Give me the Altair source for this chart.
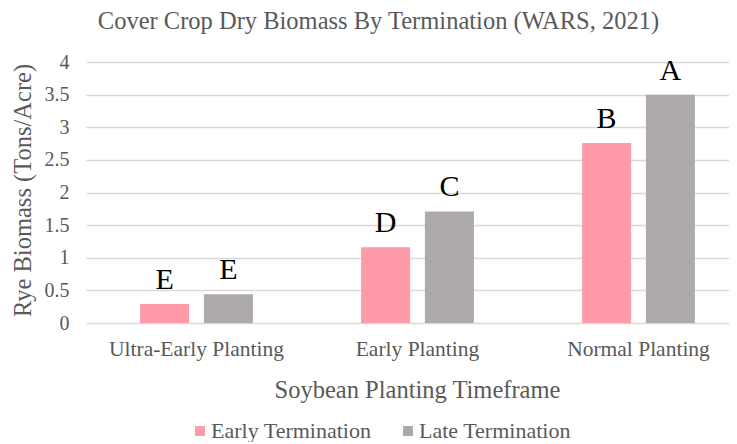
import altair as alt
import pandas as pd

groups = ["Ultra-Early Planting", "Early Planting", "Normal Planting"]
series = ["Early Termination", "Late Termination"]
early_values = [0.29, 1.16, 2.76]
late_values = [0.44, 1.71, 3.50]
early_letters = ["E", "D", "B"]
late_letters = ["E", "C", "A"]
colors = ["#FF9AA8", "#AEAAAA"]
y_ticks = [0, 0.5, 1, 1.5, 2, 2.5, 3, 3.5, 4]

rows = []
for i, g in enumerate(groups):
    rows.append({"group": g, "series": series[0], "value": early_values[i], "letter": early_letters[i]})
    rows.append({"group": g, "series": series[1], "value": late_values[i], "letter": late_letters[i]})
df = pd.DataFrame(rows)

FONT = "Liberation Serif"
GREY = "#595959"

x = alt.X(
    "group:N",
    sort=groups,
    scale=alt.Scale(range=[0, 663], paddingInner=0.49, paddingOuter=0.245),
    axis=alt.Axis(
        title="Soybean Planting Timeframe",
        labelAngle=0,
        labelFont=FONT,
        labelFontSize=21.5,
        labelColor=GREY,
        labelPadding=15,
        titleFont=FONT,
        titleFontSize=24.5,
        titleFontWeight="normal",
        titleColor=GREY,
        titleX=331,
        titleY=74,
        titleBaseline="alphabetic",
        titleAnchor="middle",
        titleAlign="center",
        domain=False,
        ticks=False,
        grid=False,
    ),
)
xoff = alt.XOffset("series:N", sort=series, scale=alt.Scale(paddingInner=0.234, paddingOuter=0))
y = alt.Y(
    "value:Q",
    scale=alt.Scale(domain=[0, 4], nice=False),
    axis=alt.Axis(
        title="Rye Biomass (Tons/Acre)",
        values=y_ticks,
        labelExpr="'' + datum.value",
        labelFont=FONT,
        labelFontSize=20,
        labelColor=GREY,
        labelPadding=17,
        titleFont=FONT,
        titleFontSize=24.5,
        titleFontWeight="normal",
        titleColor=GREY,
        titleAngle=-90,
        titleX=-63,
        titleY=128,
        titleBaseline="middle",
        titleAlign="center",
        domain=False,
        ticks=False,
        gridColor="#D9D9D9",
        gridWidth=1.5,
    ),
)

bars = alt.Chart(df).mark_bar(size=49).encode(
    x=x,
    xOffset=xoff,
    y=y,
    color=alt.Color(
        "series:N",
        sort=series,
        scale=alt.Scale(domain=series, range=colors),
        legend=alt.Legend(
            title=None,
            orient="none",
            direction="horizontal",
            legendX=103,
            legendY=358,
            symbolType="square",
            symbolSize=100,
            symbolStrokeWidth=0,
            labelFont=FONT,
            labelFontSize=22,
            labelColor=GREY,
            labelOffset=0,
            labelLimit=300,
            columnPadding=25,
        ),
    ),
)

labels = alt.Chart(df).mark_text(
    font=FONT, fontSize=30, color="#000000", dy=-15, baseline="alphabetic"
).encode(x=x, xOffset=xoff, y=y, text="letter:N")

chart = (
    alt.layer(bars, labels)
    .properties(
        width=643,
        height=261,
        autosize=alt.AutoSizeParams(type="none"),
        padding={"left": 78, "top": 54, "right": 0, "bottom": 119},
        title=alt.TitleParams(
            "Cover Crop Dry Biomass By Termination (WARS, 2021)",
            font=FONT,
            fontSize=24.5,
            fontWeight="normal",
            color=GREY,
            anchor="middle",
            dx=-29,
            offset=18,
        ),
    )
    .configure_view(stroke=None)
)

chart.save("out.html", embed_options={"renderer": "svg", "actions": False})
